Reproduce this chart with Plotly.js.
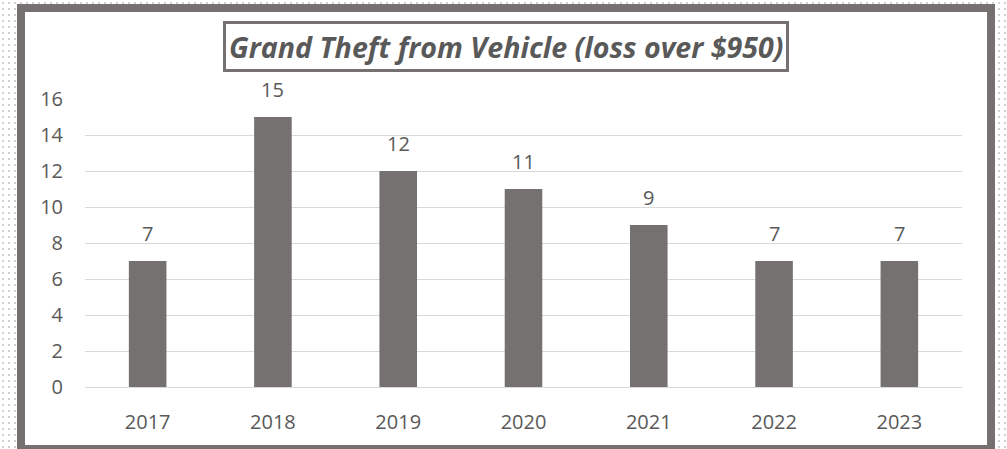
<!DOCTYPE html>
<html>
<head>
<meta charset="utf-8">
<script src="https://cdn.plot.ly/plotly-3.0.1.min.js"></script>
<style>
  html, body { margin:0; padding:0; width:1007px; height:449px; overflow:hidden;
    background-color:#ffffff;
    background-image: radial-gradient(#d0d0d0 0.8px, transparent 1px);
    background-size: 6px 6px; }
  #frame { position:absolute; left:17px; top:4px; width:978px; height:449px; box-sizing:border-box;
    border:8px solid #767171; background:#ffffff; }
  #chart { position:absolute; left:0; top:0; width:1007px; height:449px; }
</style>
</head>
<body>
<div id="frame"></div>
<div id="chart"></div>
<script>
const categories = ["2017", "2018", "2019", "2020", "2021", "2022", "2023"];
const values = [7, 15, 12, 11, 9, 7, 7];
const yTicks = [0, 2, 4, 6, 8, 10, 12, 14, 16];
const chartTitle = "Grand Theft from Vehicle (loss over $950)";

const trace = {
  type: "bar",
  x: categories,
  y: values,
  marker: { color: "#767171", line: { width: 0 } },
  hoverinfo: "skip"
};

const labelAnnotations = categories.map((c, i) => ({
  xref: "x", yref: "y", x: i, y: values[i],
  text: String(values[i]), showarrow: false,
  xanchor: "center", yanchor: "bottom", yshift: 12,
  font: { family: "Open Sans, sans-serif", size: 20, color: "#595959" }
}));

const layout = {
  width: 1007, height: 449,
  margin: { l: 85, r: 45, t: 99, b: 62 },
  paper_bgcolor: "rgba(0,0,0,0)",
  plot_bgcolor: "rgba(0,0,0,0)",
  bargap: 0.7,
  showlegend: false,
  font: { family: "Open Sans, sans-serif", size: 20, color: "#595959" },
  xaxis: {
    type: "category",
    categoryarray: categories,
    range: [-0.5, categories.length - 0.5],
    showgrid: false, showline: false, zeroline: false,
    ticks: "", ticklabelstandoff: 21,
    tickfont: { size: 20, color: "#595959" }
  },
  yaxis: {
    range: [0, 16],
    tickvals: yTicks,
    ticktext: yTicks.map(String),
    showgrid: true, gridcolor: "#d9d9d9", gridwidth: 1,
    zeroline: true, zerolinecolor: "#d9d9d9", zerolinewidth: 1,
    showline: false, ticks: "", ticklabelstandoff: 21,
    tickfont: { size: 20, color: "#595959" }
  },
  annotations: labelAnnotations.concat([{
    xref: "paper", yref: "paper",
    x: (506 - 85) / 877, y: 1 + (99 - 47) / 288,
    xanchor: "center", yanchor: "middle",
    text: "<b><i>" + chartTitle + "</i></b>",
    showarrow: false,
    font: { family: "Open Sans, sans-serif", size: 28.6, color: "#595959" },
    bordercolor: "#767171", borderwidth: 3, borderpad: 3,
    bgcolor: "#ffffff"
  }])
};

Plotly.newPlot("chart", [trace], layout, { displayModeBar: false, staticPlot: true });
</script>
</body>
</html>
